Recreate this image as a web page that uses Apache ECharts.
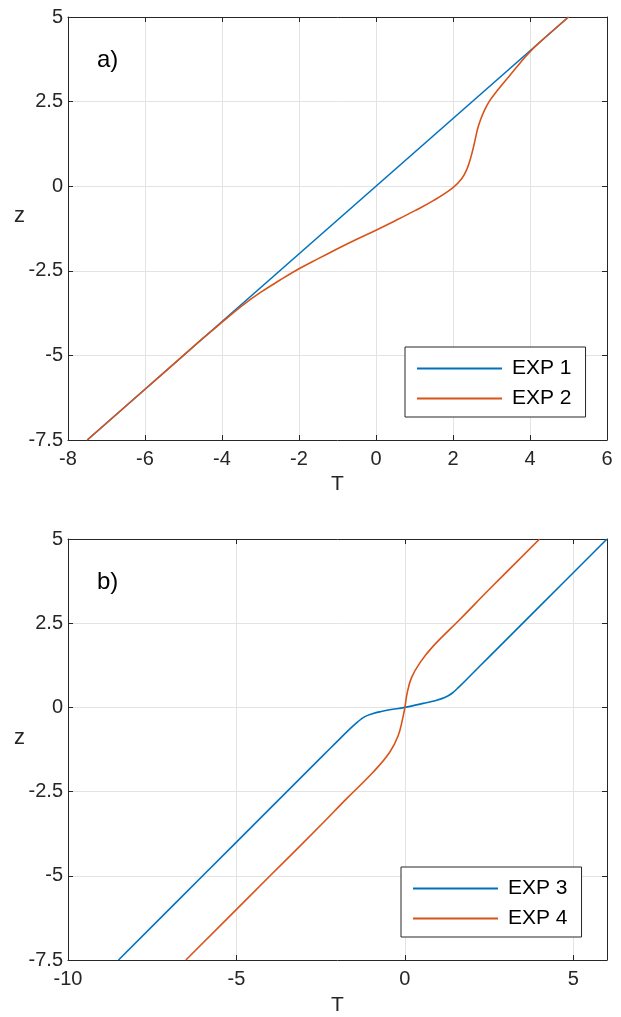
<!DOCTYPE html>
<html>
<head>
<meta charset="utf-8">
<script src="https://cdn.jsdelivr.net/npm/echarts@6/dist/echarts.min.js"></script>
<style>
html,body{margin:0;padding:0;background:#fff;}
#c{width:621px;height:1017px;}
</style>
</head>
<body>
<div id="c"></div>
<script>
// Panel a)
const exp1T = [-7.5, 5];
const exp1Z = [-7.5, 5];
const exp2T = [-7.5, -6, -5, -4.5, -4, -3.5, -3, -2.5, -2, -1.5, -1, -0.5, 0, 0.5, 1, 1.5, 2, 2.23, 2.36, 2.45, 2.52, 2.58, 2.64, 2.72, 2.82, 2.95, 3.14, 3.48, 3.83, 4.0, 4.2, 5];
const exp2Z = [-7.5, -6, -5, -4.5, -4.02, -3.55, -3.14, -2.78, -2.44, -2.14, -1.85, -1.57, -1.3, -1.02, -0.73, -0.42, -0.04, 0.23, 0.5, 0.8, 1.1, 1.4, 1.7, 1.98, 2.25, 2.52, 2.81, 3.28, 3.76, 3.97, 4.2, 5];
// Panel b)
const exp3T = [-8.5, -6, -4, -2.5, -2.0, -1.6, -1.4, -1.2, -0.94, -0.7, -0.45, 0, 0.54, 0.9, 1.2, 1.4, 1.6, 2.0, 2.5, 4, 6];
const exp3Z = [-7.5, -5, -3, -1.5, -1.0, -0.61, -0.43, -0.28, -0.18, -0.12, -0.07, 0, 0.12, 0.2, 0.3, 0.42, 0.6, 1.0, 1.5, 3, 5];
const exp4T = [-6.5, -4, -2.5, -1.73, -0.94, -0.45, -0.2, -0.07, 0, 0.07, 0.2, 0.45, 0.84, 1.63, 2.5, 4];
const exp4Z = [-7.5, -5, -3.5, -2.71, -1.92, -1.33, -0.84, -0.35, 0, 0.44, 0.89, 1.33, 1.82, 2.61, 3.5, 5];
const yTicks = [-7.5, -5, -2.5, 0, 2.5, 5];
const xTicksA = [-8, -6, -4, -2, 0, 2, 4, 6];
const xTicksB = [-10, -5, 0, 5];

const pairs = (xs, ys) => xs.map((x, i) => [x, ys[i]]);
const FONT = 'Liberation Sans';
const AX = '#262626';
const BLUE = '#0072BD';
const ORANGE = '#D95319';

function xMain(grid, min, max, interval, showMax, gap) {
  return {
    type: 'value', gridIndex: grid, min: min, max: max, interval: interval, position: 'bottom',
    name: 'T', nameLocation: 'middle', nameGap: gap,
    nameTextStyle: {fontFamily: FONT, fontSize: 21, color: AX},
    axisLine: {show: true, onZero: false, lineStyle: {color: AX, width: 1}},
    axisTick: {show: true, inside: true, length: 5, lineStyle: {color: AX}},
    axisLabel: {fontFamily: FONT, fontSize: 20, color: AX, margin: 9, showMaxLabel: showMax, showMinLabel: true},
    splitLine: {show: true, lineStyle: {color: '#e3e3e3', width: 1}}
  };
}
function xTop(grid, min, max, interval) {
  return {
    type: 'value', gridIndex: grid, min: min, max: max, interval: interval, position: 'top',
    axisLine: {show: true, onZero: false, lineStyle: {color: AX, width: 1}},
    axisTick: {show: true, inside: true, length: 5, lineStyle: {color: AX}},
    axisLabel: {show: false}, splitLine: {show: false}
  };
}
function yMain(grid) {
  return {
    type: 'value', gridIndex: grid, min: yTicks[0], max: yTicks[yTicks.length - 1], interval: 2.5, position: 'left',
    axisLine: {show: true, onZero: false, lineStyle: {color: AX, width: 1}},
    axisTick: {show: true, inside: true, length: 5, lineStyle: {color: AX}},
    axisLabel: {fontFamily: FONT, fontSize: 20, color: AX, margin: 5,
      formatter: v => String(v)},
    splitLine: {show: true, lineStyle: {color: '#e3e3e3', width: 1}}
  };
}
function yRight(grid) {
  return {
    type: 'value', gridIndex: grid, min: yTicks[0], max: yTicks[yTicks.length - 1], interval: 2.5, position: 'right',
    axisLine: {show: true, onZero: false, lineStyle: {color: AX, width: 1}},
    axisTick: {show: true, inside: true, length: 5, lineStyle: {color: AX}},
    axisLabel: {show: false}, splitLine: {show: false}
  };
}
function line(name, xi, yi, data, color) {
  return {
    name: name, type: 'line', xAxisIndex: xi, yAxisIndex: yi, data: data,
    symbol: 'none', smooth: 0.4, color: color,
    lineStyle: {color: color, width: 1.6}, animation: false
  };
}
function legendBox(names, left, top) {
  return {
    data: names, orient: 'vertical', left: left, top: top,
    icon: 'rect',
    backgroundColor: '#fff', borderColor: AX, borderWidth: 1,
    padding: [11, 14, 8, 12], itemWidth: 85, itemHeight: 2, itemGap: 9,
    textStyle: {fontFamily: FONT, fontSize: 21, color: '#000', padding: [0, 0, 0, 5]},
    selectedMode: false
  };
}

const chart = echarts.init(document.getElementById('c'), null, {renderer: 'canvas'});
chart.setOption({
  animation: false,
  backgroundColor: '#fff',
  grid: [
    {left: 68, right: 14, top: 17, height: 423},
    {left: 68, right: 14, top: 539, height: 422}
  ],
  xAxis: [
    xMain(0, xTicksA[0], xTicksA[xTicksA.length - 1], 2, true, 34),
    xTop(0, xTicksA[0], xTicksA[xTicksA.length - 1], 2),
    xMain(1, xTicksB[0], 6, 5, false, 35),
    xTop(1, xTicksB[0], 6, 5)
  ],
  yAxis: [yMain(0), yRight(0), yMain(1), yRight(1)],
  legend: [
    legendBox(['EXP 1', 'EXP 2'], 405, 347),
    legendBox(['EXP 3', 'EXP 4'], 401, 867)
  ],
  graphic: [
    {type: 'text', left: 97, top: 48, style: {text: 'a)', font: '24px "Liberation Sans"', fill: '#000'}},
    {type: 'text', left: 97, top: 570, style: {text: 'b)', font: '24px "Liberation Sans"', fill: '#000'}},
    {type: 'text', left: 14, top: 205, style: {text: 'z', font: '22px "Liberation Sans"', fill: AX}},
    {type: 'text', left: 14, top: 727, style: {text: 'z', font: '22px "Liberation Sans"', fill: AX}}
  ],
  series: [
    line('EXP 1', 0, 0, pairs(exp1T, exp1Z), BLUE),
    line('EXP 2', 0, 0, pairs(exp2T, exp2Z), ORANGE),
    line('EXP 3', 2, 2, pairs(exp3T, exp3Z), BLUE),
    line('EXP 4', 2, 2, pairs(exp4T, exp4Z), ORANGE)
  ]
});
</script>
</body>
</html>
